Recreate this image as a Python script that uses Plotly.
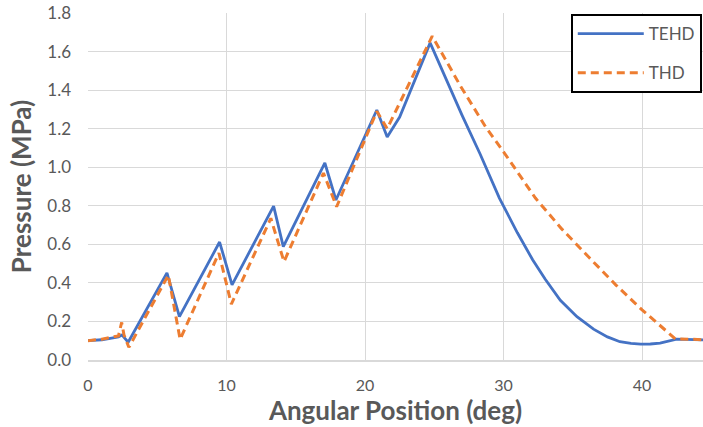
import plotly.graph_objects as go

# Angular position (deg) and film pressure (MPa) for the two models
tehd_angle = [0, 1.0, 2.2, 2.45, 2.9, 5.7, 6.6, 9.5, 10.4, 13.4, 14.1, 17.1, 17.9,
              20.85, 21.6, 22.5, 24.7, 26.0, 27.0, 28.3, 29.7, 31.0, 32.1, 33.0,
              34.1, 35.3, 36.5, 37.5, 38.4, 39.2, 39.9, 40.6, 41.3, 42.5, 43.5, 44.4]
tehd_pressure = [0.100, 0.105, 0.120, 0.130, 0.092, 0.452, 0.225, 0.612, 0.390, 0.798,
                 0.588, 1.022, 0.830, 1.297, 1.157, 1.260, 1.645, 1.43, 1.27, 1.07,
                 0.84, 0.66, 0.52, 0.42, 0.31, 0.225, 0.16, 0.12, 0.095, 0.086,
                 0.082, 0.083, 0.088, 0.108, 0.106, 0.104]

thd_angle = [0, 1.0, 2.2, 2.43, 2.6, 2.95, 5.8, 6.65, 9.45, 10.35, 13.2, 14.15, 17.0,
             17.95, 20.85, 21.6, 24.85, 26.9, 28.7, 30.0, 32.3, 34.2, 36.2, 38.1,
             40.0, 41.2, 42.4, 43.4, 44.4]
thd_pressure = [0.100, 0.108, 0.125, 0.195, 0.13, 0.066, 0.440, 0.107, 0.555, 0.290,
                0.735, 0.510, 0.970, 0.795, 1.290, 1.200, 1.680, 1.42, 1.21, 1.08,
                0.84, 0.68, 0.53, 0.39, 0.26, 0.185, 0.11, 0.108, 0.105]

x_ticks = [0, 10, 20, 30, 40]
y_ticks = [0.0, 0.2, 0.4, 0.6, 0.8, 1.0, 1.2, 1.4, 1.6, 1.8]

FONT = "Lato"
GRAY = "#595959"
GRID = "#d9d9d9"

fig = go.Figure()
fig.add_trace(go.Scatter(
    x=tehd_angle, y=tehd_pressure, mode="lines", name="TEHD",
    legendgroup="a",
    line=dict(color="#4472C4", width=2.8),
))
fig.add_trace(go.Scatter(
    x=thd_angle, y=thd_pressure, mode="lines", name="THD",
    legendgroup="b",
    line=dict(color="#ED7D31", width=3, dash="8px,5px"),
))

fig.update_layout(
    width=703, height=427,
    margin=dict(l=88, r=0, t=13, b=67),
    paper_bgcolor="white", plot_bgcolor="white",
    font=dict(family=FONT, color=GRAY, size=17),
    showlegend=True,
    legend=dict(
        x=0.785, y=0.997, xanchor="left", yanchor="top",
        bgcolor="white", bordercolor="black", borderwidth=2,
        font=dict(family=FONT, size=17, color=GRAY),
        tracegroupgap=14, itemwidth=66, entrywidth=68,
    ),
    xaxis=dict(
        range=[0, 44.4], tickvals=x_ticks, ticktext=[str(v) for v in x_ticks],
        showgrid=True, gridcolor=GRID, gridwidth=1,
        showline=True, linecolor=GRID, linewidth=1.5,
        zeroline=False, ticks="", ticklabelstandoff=10,
        tickfont=dict(size=16, color=GRAY),
        title=dict(text="<b>Angular Position (deg)</b>", standoff=5,
                   font=dict(size=26, color=GRAY, family=FONT)),
    ),
    yaxis=dict(
        range=[0, 1.8], tickvals=y_ticks, ticktext=[f"{v:.1f}" for v in y_ticks],
        showgrid=True, gridcolor=GRID, gridwidth=1,
        showline=False, zeroline=False, ticks="", ticklabelstandoff=16,
        tickfont=dict(size=17, color=GRAY),
        title=dict(text="<b>Pressure (MPa)</b>", standoff=8,
                   font=dict(size=26, color=GRAY, family=FONT)),
    ),
)

fig.write_html("out.html")
